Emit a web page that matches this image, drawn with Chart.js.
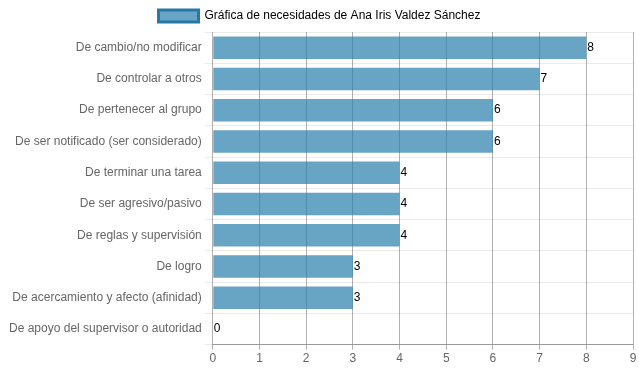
<!DOCTYPE html>
<html>
<head>
<meta charset="utf-8">
<script src="https://cdn.jsdelivr.net/npm/chart.js@4/dist/chart.umd.min.js"></script>
<style>
  html, body { margin: 0; padding: 0; background: #fff; }
  #wrap { width: 639px; height: 372px; }
</style>
</head>
<body>
<div id="wrap"><canvas id="needsChart"></canvas></div>
<script>
// Chart data
const seriesLabel = 'Gráfica de necesidades de Ana Iris Valdez Sánchez';
const categories = [
  'De cambio/no modificar',
  'De controlar a otros',
  'De pertenecer al grupo',
  'De ser notificado (ser considerado)',
  'De terminar una tarea',
  'De ser agresivo/pasivo',
  'De reglas y supervisión',
  'De logro',
  'De acercamiento y afecto (afinidad)',
  'De apoyo del supervisor o autoridad'
];
const values = [8, 7, 6, 6, 4, 4, 4, 3, 3, 0];
const xTicks = [0, 1, 2, 3, 4, 5, 6, 7, 8, 9];

// Write each value at the end of its bar
const valueLabels = {
  id: 'valueLabels',
  afterDatasetsDraw(chart) {
    const ctx = chart.ctx;
    const meta = chart.getDatasetMeta(0);
    ctx.save();
    ctx.fillStyle = '#000';
    ctx.font = '12px "Liberation Sans", Arial, sans-serif';
    ctx.textBaseline = 'middle';
    ctx.textAlign = 'left';
    meta.data.forEach((bar, i) => {
      ctx.fillText(values[i], bar.x + 1, bar.y);
    });
    ctx.restore();
  }
};

Chart.defaults.font.family = '"Liberation Sans", Arial, sans-serif';
Chart.defaults.font.size = 12;
Chart.defaults.color = '#666';

new Chart(document.getElementById('needsChart'), {
  type: 'bar',
  data: {
    labels: categories,
    datasets: [{
      label: seriesLabel,
      data: values,
      backgroundColor: 'rgba(40, 125, 170, 0.7)',
      borderColor: 'rgba(40, 120, 165, 1)',
      borderWidth: 0
    }]
  },
  options: {
    indexAxis: 'y',
    responsive: true,
    maintainAspectRatio: false,
    animation: false,
    layout: { padding: { right: 6, left: 6, bottom: 4 } },
    plugins: {
      legend: {
        labels: {
          boxWidth: 40,
          boxHeight: 12,
          generateLabels(chart) {
            return [{
              text: seriesLabel,
              fillStyle: 'rgba(40, 125, 170, 0.7)',
              strokeStyle: 'rgba(40, 120, 165, 1)',
              lineWidth: 3,
              datasetIndex: 0
            }];
          }
        }
      },
      tooltip: { enabled: false }
    },
    scales: {
      x: {
        min: 0,
        max: 9,
        afterBuildTicks(axis) {
          axis.ticks = xTicks.map(v => ({ value: v }));
        },
        grid: { color: 'rgba(0,0,0,0.3)', tickLength: 5 },
        border: { color: 'rgba(0,0,0,0.35)' },
        ticks: { color: '#666', padding: 2 }
      },
      y: {
        grid: { color: 'rgba(0,0,0,0.08)', tickLength: 8, offset: true },
        border: { display: false },
        ticks: { color: '#666', padding: 3 }
      }
    }
  },
  plugins: [valueLabels]
});
</script>
</body>
</html>
